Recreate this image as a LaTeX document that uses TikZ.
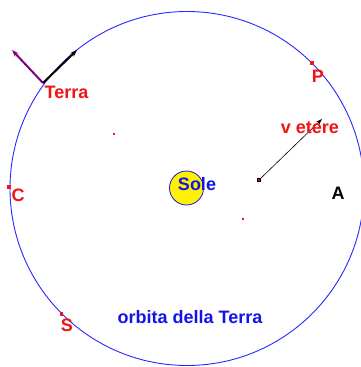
\documentclass[tikz,border=0pt]{standalone}
\usepackage{fontspec}
\setmainfont{Liberation Sans}
\usetikzlibrary{arrows.meta}
\definecolor{orbitblue}{RGB}{40,40,255}
\definecolor{lblue}{RGB}{20,20,230}
\definecolor{lred}{RGB}{240,20,20}
\definecolor{vpurple}{RGB}{128,0,128}
\tikzset{
  lbl/.style={font=\fontsize{18}{18}\selectfont\bfseries, inner sep=0pt},
  redlbl/.style={lbl, text=lred},
  bluelbl/.style={lbl, text=lblue},
  pt/.style={fill=lred, minimum size=3.2pt, inner sep=0pt, draw=none, rectangle},
  tinypt/.style={fill=lred, minimum size=1.6pt, inner sep=0pt, draw=none, rectangle},
  vec/.style={-{Stealth[length=7pt,width=5pt]}},
}
\begin{document}
\begin{tikzpicture}[x=1pt,y=-1pt]
\useasboundingbox (0,0) rectangle (361,367);
\fill[white] (0,0) rectangle (361,367);
% orbit
\draw[orbitblue, line width=0.9pt] (187,188.5) circle[radius=177];
% sun
\node[circle, fill=yellow, draw=lblue, line width=0.8pt, minimum size=34pt, inner sep=0pt] (sun) at (186.5,188) {};
\node[bluelbl] (sole) at (197,184) {Sole};
% Earth with vectors
\coordinate (terra) at (43,83);
\coordinate (vpurp) at (12,50);
\coordinate (vblk) at (77,50);
\draw[vpurple, line width=2pt, vec] (terra) -- (vpurp);
\draw[black, line width=2pt, vec] (terra) -- (vblk);
\node[redlbl, anchor=west] (terralbl) at (44.5,92) {Terra};
% P
\node[pt] (P) at (312,63) {};
\node[redlbl] (Plbl) at (318,76) {P};
% ether velocity
\node[pt, draw=black, line width=0.3pt] (vsrc) at (259,180) {};
\coordinate (vtip) at (322,119);
\draw[black, line width=0.6pt, -{Stealth[length=6pt,width=4pt]}] (vsrc.center) -- (vtip);
\node[redlbl] (vlbl) at (310,128) {v etere};
% A
\node[lbl] (A) at (338,193) {A};
% C
\node[pt] (C) at (9,187) {};
\node[redlbl] (Clbl) at (18,195) {C};
% S
\node[pt] (S) at (61.5,314) {};
\node[redlbl] (Slbl) at (67,325) {S};
% orbit label
\node[bluelbl] (orb) at (190,317) {orbita della Terra};
% tiny dots
\node[tinypt] (d1) at (114,134) {};
\node[tinypt] (d2) at (243,219) {};
\end{tikzpicture}
\end{document}
